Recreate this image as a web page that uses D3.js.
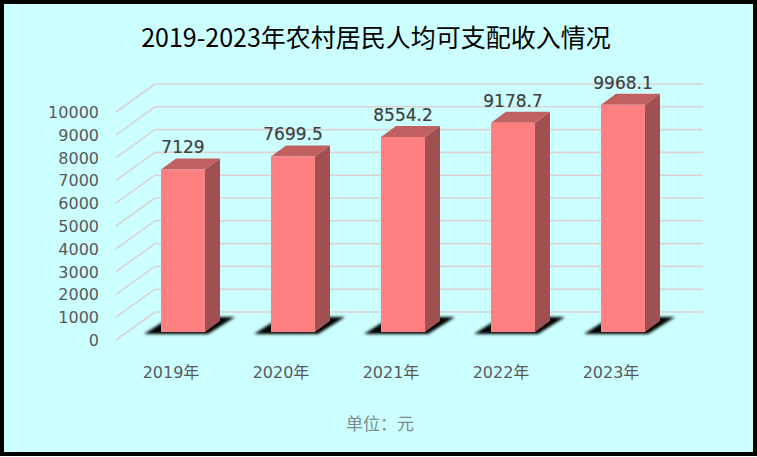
<html>
<head>
<meta charset="utf-8">
<script src="https://d3js.org/d3.v7.min.js"></script>
<style>
  body { margin: 0; background: #fff; }
  svg { display: block; }
</style>
</head>
<body>
<div id="chart"></div>
<script>
// data
const years = ["2019年", "2020年", "2021年", "2022年", "2023年"];
const income = [7129, 7699.5, 8554.2, 9178.7, 9968.1];
const yTicks = [0, 1000, 2000, 3000, 4000, 5000, 6000, 7000, 8000, 9000, 10000];
const titleText = "2019-2023年农村居民人均可支配收入情况";
const unitText = "单位：元";

const W = 757, H = 457;

// 3d geometry of the plot
const floorFront = 340;   // y of value 0 at the front edge
const floorBack = 312;    // y of value 0 on the back wall
const wallLeftFront = 116, wallLeftBack = 155, wallRight = 703;
const barBase = 332;      // bottoms of the bars
const depthX = 15, depthY = 11;

const svg = d3.select("#chart").append("svg")
  .attr("width", W).attr("height", H);

const defs = svg.append("defs");
defs.append("filter").attr("id", "blur")
  .attr("x", "-50%").attr("y", "-50%").attr("width", "200%").attr("height", "200%")
  .append("feGaussianBlur").attr("stdDeviation", 1.6);

// background + border
svg.append("rect")
  .attr("x", 2).attr("y", 2).attr("width", 753).attr("height", 452)
  .attr("fill", "#ccffff").attr("stroke", "#000").attr("stroke-width", 4);

// title
svg.append("text")
  .attr("x", 376).attr("y", 47)
  .attr("text-anchor", "middle")
  .attr("font-family", "'Noto Sans CJK SC', sans-serif")
  .attr("font-size", 25)
  .attr("fill", "#000")
  .text(titleText);

// scales
const h = d3.scaleLinear().domain([0, 10000]).range([0, 228]);
const x = d3.scaleBand().domain(years).range([128, 678])
  .paddingInner(0.6).paddingOuter(0.3);

// gridlines: back wall + left wall diagonals
const grid = svg.append("g").attr("stroke", "#dcd2d2").attr("stroke-width", 1.6).attr("fill", "none");
grid.selectAll("line.back").data(yTicks).join("line")
  .attr("class", "back")
  .attr("x1", wallLeftBack).attr("x2", wallRight)
  .attr("y1", d => floorBack - h(d)).attr("y2", d => floorBack - h(d));
grid.selectAll("line.side").data(yTicks).join("line")
  .attr("class", "side")
  .attr("x1", wallLeftFront).attr("x2", wallLeftBack)
  .attr("y1", d => floorFront - h(d)).attr("y2", d => floorBack - h(d));

// y tick labels
svg.append("g").selectAll("text").data(yTicks).join("text")
  .attr("x", 99).attr("y", d => floorFront - h(d) + 6)
  .attr("text-anchor", "end")
  .attr("font-family", "'DejaVu Sans', sans-serif")
  .attr("font-size", 16)
  .attr("fill", "#595959")
  .text(d => d);

const data = years.map((y, i) => ({ year: y, value: income[i] }));

// shadows
svg.append("g").selectAll("polygon").data(data).join("polygon")
  .attr("filter", "url(#blur)")
  .attr("fill", "#000")
  .attr("points", d => {
    const x0 = x(d.year), x1 = x0 + x.bandwidth();
    return [[x0 - 17, barBase + 2], [x1 + 3, barBase + 2], [x1 + 30, barBase - 15], [x0 + 10, barBase - 15]]
      .map(p => p.join(",")).join(" ");
  });

const bars = svg.append("g").selectAll("g").data(data).join("g");

// side face
bars.append("polygon")
  .attr("fill", "#a05050")
  .attr("points", d => {
    const x1 = x(d.year) + x.bandwidth(), top = barBase - h(d.value);
    return [[x1, top], [x1 + depthX, top - depthY], [x1 + depthX, barBase - depthY], [x1, barBase]]
      .map(p => p.join(",")).join(" ");
  });

// top face
bars.append("polygon")
  .attr("fill", "#c06060")
  .attr("points", d => {
    const x0 = x(d.year), x1 = x0 + x.bandwidth(), top = barBase - h(d.value);
    return [[x0, top], [x0 + depthX, top - depthY], [x1 + depthX, top - depthY], [x1, top]]
      .map(p => p.join(",")).join(" ");
  });

// front face
bars.append("rect")
  .attr("x", d => x(d.year))
  .attr("y", d => barBase - h(d.value))
  .attr("width", x.bandwidth())
  .attr("height", d => h(d.value))
  .attr("fill", "#ff8080");

// value labels
bars.append("text")
  .attr("x", d => x(d.year) + x.bandwidth() / 2)
  .attr("y", d => barBase - h(d.value) - depthY - 5)
  .attr("text-anchor", "middle")
  .attr("font-family", "'DejaVu Sans', sans-serif")
  .attr("font-size", 17)
  .attr("fill", "#404040")
  .attr("stroke", "#404040").attr("stroke-width", 0.2)
  .text(d => d.value);

// category labels
svg.append("g").selectAll("text").data(years).join("text")
  .attr("x", d => x(d) + x.bandwidth() / 2 - 12)
  .attr("y", 378)
  .attr("text-anchor", "middle")
  .attr("font-family", "'DejaVu Sans', 'Noto Sans CJK SC', sans-serif")
  .attr("font-size", 16)
  .attr("fill", "#595959")
  .text(d => d);

// unit note
svg.append("text")
  .attr("x", 380).attr("y", 430)
  .attr("text-anchor", "middle")
  .attr("font-family", "'Noto Sans CJK SC', sans-serif")
  .attr("font-size", 17)
  .attr("fill", "#7f8c8c")
  .text(unitText);
</script>
</body>
</html>
